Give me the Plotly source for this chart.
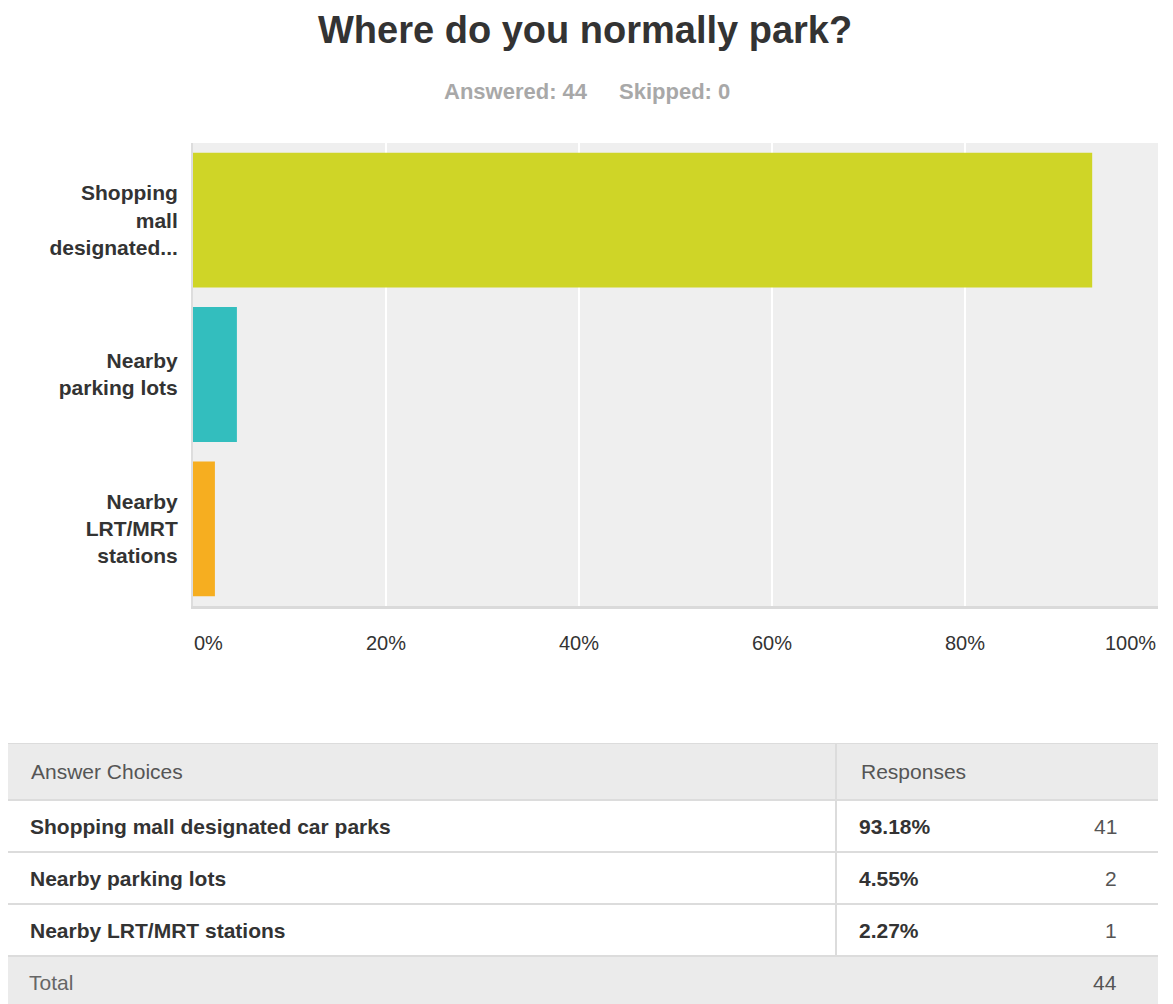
import plotly.graph_objects as go

# ---- survey data ----
question = "Where do you normally park?"
answered = 44
skipped = 0
choices = ["Shopping mall designated car parks", "Nearby parking lots", "Nearby LRT/MRT stations"]
axis_labels = ["Shopping<br>mall<br>designated...", "Nearby<br>parking lots", "Nearby<br>LRT/MRT<br>stations"]
percents = [93.18, 4.55, 2.27]
counts = [41, 2, 1]
bar_colors = ["#cfd527", "#33bebe", "#f6ae20"]
x_ticks = [0, 20, 40, 60, 80, 100]
x_tick_labels = ["0%", "20%", "40%", "60%", "80%", "100%"]

# ---- page geometry (pixels) ----
W, H = 1173, 1004
FONT = "Arial, Liberation Sans, sans-serif"


def fx(px):
    return px / W


def fy(py):
    return 1 - py / H


fig = go.Figure()

fig.add_trace(go.Bar(
    x=percents,
    y=choices,
    orientation="h",
    marker=dict(color=bar_colors, line=dict(width=0)),
    hoverinfo="skip",
    showlegend=False,
))

# chart area
plot_left, plot_right, plot_top, plot_bottom = 193, 1158, 143, 606

fig.update_layout(
    width=W, height=H,
    margin=dict(l=0, r=0, t=0, b=0),
    paper_bgcolor="white",
    plot_bgcolor="white",
    bargap=0.126,
    font=dict(family=FONT, color="#333333"),
    xaxis=dict(
        domain=[fx(plot_left), fx(plot_right)],
        range=[0, 100],
        tickvals=x_ticks,
        showticklabels=False,
        showgrid=True, gridcolor="white", gridwidth=2,
        zeroline=False,
        showline=True, linecolor="#dadada", linewidth=3,
        fixedrange=True,
    ),
    yaxis=dict(
        domain=[fy(plot_bottom), fy(plot_top)],
        autorange="reversed",
        tickvals=choices,
        ticktext=axis_labels,
        tickfont=dict(size=21, color="#333333", weight="bold"),
        ticks="",
        ticklabelstandoff=9,
        showgrid=False,
        zeroline=False,
        showline=True, linecolor="#dddddd", linewidth=2,
        fixedrange=True,
    ),
)

annotations = []

# title and response summary
annotations.append(dict(
    text=question, x=fx(585), y=fy(30), xref="paper", yref="paper",
    xanchor="center", yanchor="middle", showarrow=False,
    font=dict(size=38, color="#333333", family=FONT, weight="bold"),
))
annotations.append(dict(
    text=f"Answered: {answered}", x=fx(590), y=fy(91), xref="paper", yref="paper",
    xanchor="right", yanchor="middle", showarrow=False,
    font=dict(size=22, color="#a8a8a8", family=FONT, weight="bold"),
))
annotations.append(dict(
    text=f"Skipped: {skipped}", x=fx(617), y=fy(91), xref="paper", yref="paper",
    xanchor="left", yanchor="middle", showarrow=False,
    font=dict(size=22, color="#a8a8a8", family=FONT, weight="bold"),
))

# x tick labels: outer labels kept inside the chart width
for i, (v, lab) in enumerate(zip(x_ticks, x_tick_labels)):
    if i == 0:
        anchor = "left"
    elif i == len(x_ticks) - 1:
        anchor = "right"
    else:
        anchor = "center"
    annotations.append(dict(
        text=lab, x=v, y=fy(643), xref="x", yref="paper",
        xanchor=anchor, yanchor="middle", showarrow=False, xshift=-1 if i == 0 else 0,
        font=dict(size=20, color="#333333", family=FONT),
    ))

shapes = [
    # grey chart background (under the white gridlines)
    dict(type="rect", xref="x domain", yref="y domain", x0=0, x1=1, y0=0, y1=1,
         fillcolor="#efefef", line=dict(width=0), layer="below"),
]

# ---- summary table below the chart ----
tbl_left, tbl_right, tbl_top = 8, 1158, 743
header_h, row_h = 57, 52
col_split = 836
pct_x, count_right = 858, 1119

fig.update_layout(
    xaxis2=dict(domain=[fx(tbl_left), fx(tbl_right)], range=[tbl_left, tbl_right],
                visible=False, fixedrange=True),
    yaxis2=dict(domain=[0, fy(tbl_top)], range=[H, tbl_top],
                visible=False, fixedrange=True),
)

row_tops = [tbl_top + header_h + i * row_h for i in range(len(choices))]
total_top = row_tops[-1] + row_h
line_color = "#dcdcdc"

shapes += [
    # header band
    dict(type="rect", xref="x2", yref="y2", x0=tbl_left, x1=tbl_right,
         y0=tbl_top, y1=tbl_top + header_h, fillcolor="#ebebeb", line=dict(width=0), layer="below"),
    # total band
    dict(type="rect", xref="x2", yref="y2", x0=tbl_left, x1=tbl_right,
         y0=total_top, y1=H + 10, fillcolor="#ebebeb", line=dict(width=0), layer="below"),
]
for yline in [tbl_top, tbl_top + header_h] + [t + row_h for t in row_tops]:
    shapes.append(dict(type="line", xref="x2", yref="y2", x0=tbl_left, x1=tbl_right,
                       y0=yline, y1=yline, line=dict(color=line_color, width=2)))
shapes.append(dict(type="line", xref="x2", yref="y2", x0=col_split, x1=col_split,
                   y0=tbl_top, y1=total_top, line=dict(color=line_color, width=2)))


def cell(text, x, y, anchor="left", color="#333333", bold=False, size=21):
    annotations.append(dict(
        text=text, x=x, y=y, xref="x2", yref="y2",
        xanchor=anchor, yanchor="middle", showarrow=False,
        font=dict(size=size, color=color, family=FONT, weight="bold" if bold else "normal"),
    ))


header_mid = tbl_top + header_h / 2
cell("Answer Choices", 29, header_mid, color="#555555")
cell("Responses", pct_x + 1, header_mid, color="#555555")

for top, name, pct, n in zip(row_tops, choices, percents, counts):
    mid = top + row_h / 2
    cell(name, 28, mid, bold=True)
    cell(f"{pct:.2f}%", pct_x - 1, mid, bold=True)
    cell(str(n), count_right, mid, anchor="right", color="#555555")

total_mid = total_top + 26
cell("Total", 27, total_mid, color="#666666")
cell(str(sum(counts)), count_right, total_mid, anchor="right", color="#555555")

fig.update_layout(annotations=annotations, shapes=shapes)

fig.write_html("out.html", config={"displayModeBar": False})
